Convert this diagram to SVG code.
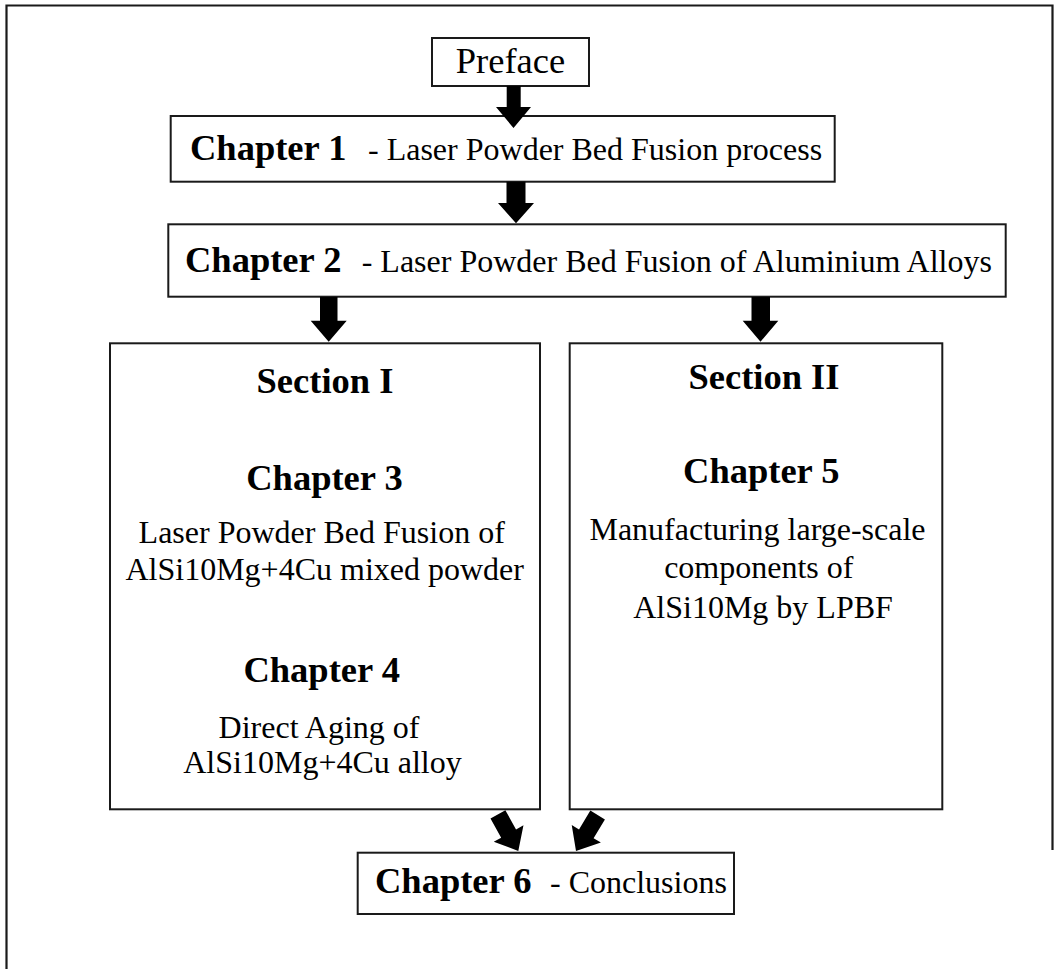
<svg xmlns="http://www.w3.org/2000/svg" width="1059" height="969" viewBox="0 0 1059 969">
<style>
.box{fill:#fff;stroke:#1a1a1a;stroke-width:2}
.frame{fill:none;stroke:#1a1a1a;stroke-width:2.2}
.arr{fill:#000}
text{font-family:"Liberation Serif","Times New Roman",serif;fill:#000}
.b{font-weight:bold;font-size:36.5px}
.r{font-size:32px}
.m{text-anchor:middle}
</style>
<rect width="1059" height="969" fill="#fff"/>
<path class="frame" d="M6.5,969 V5.5 H1052.5 V850"/>
<g id="preface">
<rect class="box" x="432" y="38" width="157" height="48"/>
<text class="m" x="510.5" y="73" style="font-size:36.5px">Preface</text>
</g>
<g id="chapter1">
<rect class="box" x="170.7" y="116" width="664" height="65.7"/>
<text class="b" x="190" y="160">Chapter 1</text>
<text class="r" x="368" y="160">- Laser Powder Bed Fusion process</text>
</g>
<g id="chapter2">
<rect class="box" x="168.3" y="224.3" width="837.4" height="72.4"/>
<text class="b" x="185" y="271.7">Chapter 2</text>
<text class="r" x="361.7" y="271.7">- Laser Powder Bed Fusion of Aluminium Alloys</text>
</g>
<g id="section1">
<rect class="box" x="110" y="343.3" width="430" height="466"/>
<text class="b m" x="325" y="392.7">Section I</text>
<text class="b m" x="324.5" y="490">Chapter 3</text>
<text class="r m" x="321.7" y="543.3">Laser Powder Bed Fusion of</text>
<text class="r m" x="324.7" y="580">AlSi10Mg+4Cu mixed powder</text>
<text class="b m" x="321.7" y="681.7">Chapter 4</text>
<text class="r m" x="319" y="738.3">Direct Aging of</text>
<text class="r m" x="322.5" y="773.3">AlSi10Mg+4Cu alloy</text>
</g>
<g id="section2">
<rect class="box" x="569.7" y="343.3" width="372.6" height="466"/>
<text class="b m" x="764" y="389.3">Section II</text>
<text class="b m" x="761.3" y="483.3">Chapter 5</text>
<text class="r m" x="757.5" y="540">Manufacturing large-scale</text>
<text class="r m" x="758.8" y="578.3">components of</text>
<text class="r m" x="763" y="618.3">AlSi10Mg by LPBF</text>
</g>
<g id="chapter6">
<rect class="box" x="357.7" y="852.7" width="376.3" height="61.3"/>
<text class="b" x="375" y="892.7">Chapter 6</text>
<text class="r" x="550" y="892.7">- Conclusions</text>
</g>
<g id="connectors">
<polygon class="arr" points="506.7,86 520.7,86 520.7,107 531,107 513.5,128 496,107 506.7,107"/>
<polygon class="arr" points="506.5,181.7 525.5,181.7 525.5,203 534,203 516,223.3 498,203 506.5,203"/>
<polygon class="arr" points="320,297 337.5,297 337.5,320.7 346.7,320.7 328.7,341.7 310.7,320.7 320,320.7"/>
<polygon class="arr" points="751.5,297 770,297 770,320.7 778.3,320.7 760.5,341.7 742.7,320.7 751.5,320.7"/>
<polygon class="arr" transform="translate(518.3,851) rotate(-29)" points="-8.5,-42 8.5,-42 8.5,-20 17,-20 0,0 -17,-20 -8.5,-20"/>
<polygon class="arr" transform="translate(576,851) rotate(31)" points="-8.5,-42 8.5,-42 8.5,-20 17,-20 0,0 -17,-20 -8.5,-20"/>
</g>
</svg>
